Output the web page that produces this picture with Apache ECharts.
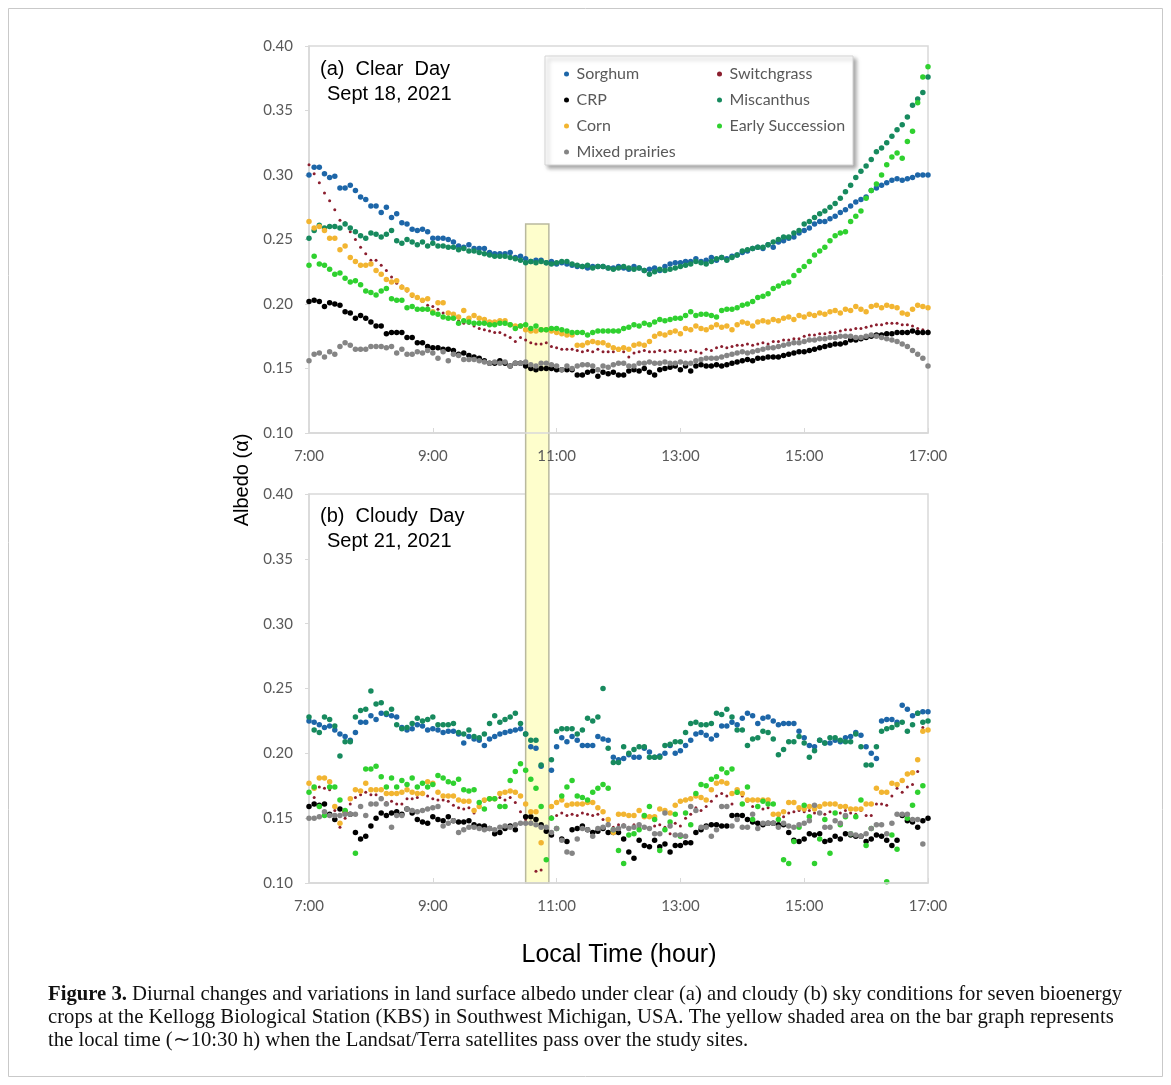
<!DOCTYPE html>
<html><head><meta charset="utf-8">
<script src="https://cdn.jsdelivr.net/npm/echarts@6/dist/echarts.min.js"></script>
<style>html,body{margin:0;padding:0;background:#fff}#c{width:1171px;height:1085px}</style>
</head><body><div id="c"></div>
<script>
// ---- sampling times (5-minute records, 7:00 - 17:00) ----
const times = [];
for (let m = 7 * 60; m <= 17 * 60; m += 5) times.push(Math.floor(m / 60) + ':' + String(m % 60).padStart(2, '0'));
const xTickLabels = ['7:00', '9:00', '11:00', '13:00', '15:00', '17:00'];
const yTicks = [0.10, 0.15, 0.20, 0.25, 0.30, 0.35, 0.40];

// ---- (a) Clear day, Sept 18, 2021 ----
const sorghumClear = [0.300,0.306,0.306,0.301,0.298,0.299,0.290,0.290,0.292,0.288,
0.283,0.281,0.276,0.276,0.271,0.275,0.267,0.270,0.263,0.262,
0.258,0.257,0.258,0.256,0.251,0.251,0.251,0.250,0.248,0.245,
0.244,0.246,0.243,0.243,0.243,0.240,0.239,0.239,0.239,0.240,
0.236,0.237,0.235,0.233,0.234,0.234,0.232,0.233,0.231,0.232,
0.231,0.230,0.229,0.229,0.228,0.229,0.229,0.229,0.228,0.228,
0.229,0.228,0.227,0.229,0.228,0.226,0.227,0.228,0.226,0.229,
0.231,0.232,0.232,0.233,0.233,0.235,0.233,0.234,0.236,0.234,
0.236,0.235,0.237,0.238,0.240,0.241,0.243,0.244,0.243,0.246,
0.244,0.248,0.249,0.251,0.252,0.255,0.257,0.259,0.262,0.264,
0.264,0.266,0.268,0.271,0.273,0.276,0.279,0.281,0.283,0.288,
0.290,0.292,0.294,0.296,0.297,0.296,0.297,0.298,0.300,0.300,
0.300];
const switchgrassClear = [0.308,0.301,0.294,0.286,0.280,0.273,0.265,0.263,0.256,0.250,
0.244,0.239,0.234,0.234,0.230,0.226,0.221,0.216,0.214,0.210,
0.206,0.205,0.202,0.199,0.198,0.196,0.193,0.190,0.189,0.187,
0.185,0.185,0.183,0.181,0.180,0.179,0.178,0.178,0.176,0.174,
0.171,0.174,0.172,0.170,0.169,0.169,0.170,0.167,0.166,0.165,
0.165,0.165,0.164,0.163,0.164,0.163,0.165,0.163,0.163,0.163,
0.164,0.163,0.159,0.162,0.163,0.164,0.163,0.163,0.164,0.163,
0.164,0.163,0.164,0.163,0.164,0.163,0.162,0.165,0.164,0.166,
0.167,0.166,0.167,0.168,0.168,0.169,0.168,0.169,0.170,0.169,
0.171,0.171,0.172,0.172,0.173,0.173,0.175,0.176,0.176,0.177,
0.177,0.178,0.178,0.179,0.180,0.180,0.181,0.181,0.182,0.183,
0.184,0.184,0.185,0.185,0.185,0.184,0.184,0.183,0.181,0.180,
0.179];
const crpClear = [0.202,0.203,0.202,0.198,0.201,0.200,0.199,0.194,0.193,0.189,
0.191,0.189,0.186,0.183,0.183,0.177,0.178,0.178,0.178,0.174,
0.174,0.170,0.170,0.167,0.166,0.166,0.165,0.165,0.164,0.161,
0.162,0.160,0.159,0.158,0.156,0.154,0.154,0.156,0.154,0.152,
0.154,0.154,0.152,0.150,0.149,0.150,0.150,0.150,0.149,0.149,
0.149,0.149,0.145,0.145,0.147,0.148,0.144,0.147,0.146,0.147,
0.145,0.145,0.148,0.149,0.148,0.150,0.147,0.145,0.149,0.150,
0.151,0.152,0.149,0.152,0.148,0.152,0.153,0.152,0.152,0.153,
0.152,0.153,0.154,0.155,0.156,0.157,0.156,0.158,0.158,0.159,
0.159,0.159,0.160,0.161,0.162,0.163,0.163,0.164,0.165,0.166,
0.167,0.168,0.169,0.169,0.170,0.172,0.172,0.173,0.174,0.175,
0.176,0.176,0.177,0.177,0.178,0.178,0.178,0.179,0.178,0.178,
0.178];
const miscanthusClear = [0.251,0.257,0.261,0.259,0.260,0.260,0.259,0.262,0.259,0.256,
0.253,0.251,0.255,0.254,0.252,0.254,0.257,0.249,0.247,0.250,
0.248,0.246,0.248,0.245,0.247,0.245,0.245,0.244,0.244,0.242,
0.243,0.241,0.241,0.240,0.239,0.238,0.237,0.237,0.237,0.236,
0.235,0.234,0.232,0.233,0.232,0.233,0.232,0.231,0.232,0.233,
0.233,0.231,0.230,0.229,0.230,0.228,0.229,0.229,0.228,0.227,
0.228,0.229,0.228,0.227,0.228,0.226,0.223,0.225,0.227,0.226,
0.227,0.228,0.229,0.230,0.231,0.233,0.232,0.231,0.233,0.235,
0.236,0.234,0.236,0.238,0.241,0.242,0.243,0.244,0.244,0.246,
0.248,0.250,0.252,0.252,0.255,0.257,0.262,0.264,0.267,0.270,
0.272,0.275,0.278,0.282,0.287,0.292,0.298,0.303,0.307,0.312,
0.318,0.321,0.325,0.330,0.335,0.339,0.345,0.354,0.359,0.364,
0.376];
const cornClear = [0.264,0.259,0.260,0.257,0.251,0.251,0.242,0.245,0.236,0.233,
0.230,0.230,0.231,0.226,0.223,0.219,0.217,0.218,0.213,0.211,
0.207,0.205,0.203,0.204,0.194,0.201,0.201,0.193,0.192,0.190,
0.195,0.189,0.191,0.189,0.188,0.186,0.186,0.187,0.187,0.184,
0.183,0.183,0.180,0.179,0.179,0.180,0.180,0.179,0.178,0.177,
0.176,0.176,0.168,0.168,0.170,0.171,0.170,0.170,0.168,0.166,
0.165,0.166,0.165,0.168,0.169,0.168,0.171,0.175,0.177,0.176,
0.178,0.179,0.177,0.181,0.180,0.183,0.181,0.180,0.182,0.184,
0.182,0.183,0.180,0.184,0.186,0.185,0.183,0.186,0.187,0.186,
0.188,0.187,0.189,0.190,0.188,0.191,0.190,0.192,0.191,0.193,
0.192,0.194,0.195,0.193,0.196,0.195,0.198,0.196,0.194,0.198,
0.199,0.197,0.199,0.198,0.197,0.193,0.192,0.196,0.199,0.198,
0.197];
const earlySuccClear = [0.230,0.237,0.231,0.230,0.227,0.223,0.224,0.220,0.217,0.218,
0.215,0.210,0.209,0.207,0.210,0.212,0.204,0.203,0.203,0.197,
0.198,0.196,0.196,0.196,0.193,0.192,0.190,0.189,0.189,0.185,
0.187,0.186,0.185,0.185,0.185,0.184,0.184,0.185,0.185,0.184,
0.181,0.183,0.184,0.181,0.183,0.180,0.180,0.181,0.181,0.180,
0.179,0.178,0.178,0.178,0.176,0.178,0.179,0.179,0.179,0.179,
0.179,0.181,0.182,0.184,0.183,0.185,0.184,0.186,0.188,0.187,
0.188,0.189,0.189,0.191,0.194,0.191,0.192,0.192,0.191,0.190,
0.195,0.196,0.196,0.197,0.199,0.200,0.202,0.205,0.206,0.208,
0.212,0.214,0.216,0.217,0.222,0.226,0.229,0.233,0.238,0.241,
0.244,0.249,0.253,0.255,0.256,0.264,0.268,0.272,0.282,0.288,
0.293,0.300,0.308,0.314,0.317,0.313,0.326,0.334,0.356,0.376,
0.384];
const mixedClear = [0.156,0.161,0.162,0.159,0.163,0.161,0.167,0.170,0.168,0.165,
0.165,0.165,0.167,0.167,0.167,0.166,0.167,0.162,0.165,0.161,
0.161,0.163,0.162,0.164,0.162,0.158,0.163,0.156,0.161,0.160,
0.157,0.157,0.157,0.156,0.155,0.154,0.155,0.154,0.155,0.152,
0.154,0.154,0.155,0.153,0.152,0.154,0.154,0.153,0.152,0.149,
0.152,0.150,0.152,0.153,0.153,0.152,0.149,0.152,0.151,0.153,
0.154,0.154,0.152,0.152,0.154,0.154,0.155,0.154,0.154,0.155,
0.154,0.154,0.155,0.154,0.154,0.156,0.157,0.158,0.158,0.158,
0.159,0.160,0.161,0.162,0.163,0.162,0.163,0.164,0.165,0.166,
0.166,0.167,0.168,0.169,0.170,0.170,0.171,0.172,0.172,0.173,
0.173,0.174,0.174,0.175,0.175,0.175,0.174,0.174,0.175,0.176,
0.175,0.174,0.173,0.172,0.171,0.169,0.167,0.164,0.161,0.158,
0.152];

// ---- (b) Cloudy day, Sept 21, 2021 ----
const sorghumCloudy = [0.225,0.224,0.222,0.220,0.221,0.218,0.215,0.213,0.210,0.216,
0.224,0.224,0.229,0.226,0.231,0.230,0.229,0.228,0.220,0.218,
0.219,0.222,0.221,0.218,0.219,0.218,0.216,0.217,0.217,0.215,
0.208,0.213,0.211,0.210,0.206,0.211,0.213,0.215,0.216,0.217,
0.218,0.219,0.215,0.205,0.204,0.190,null,0.187,0.205,0.212,
0.209,0.213,0.210,0.206,0.206,0.206,0.213,0.211,0.210,0.197,
0.195,0.196,0.199,0.197,0.197,0.204,0.201,0.197,0.198,0.200,
0.206,0.200,0.202,0.206,0.210,0.215,0.216,0.214,0.211,0.214,
0.221,0.221,0.224,0.222,0.227,0.231,0.229,0.223,0.227,0.228,
0.225,0.222,0.223,0.223,0.223,0.217,0.212,0.206,0.205,0.210,
0.208,0.208,0.210,0.209,0.212,0.213,0.216,0.214,0.205,0.200,
0.196,0.225,0.226,0.226,0.224,0.237,0.234,0.229,0.231,0.232,
0.232];
const switchgrassCloudy = [0.170,0.166,0.174,0.173,0.172,0.156,0.143,0.150,0.161,0.166,
0.168,0.170,0.168,0.168,0.166,0.162,0.163,0.161,0.161,0.165,
0.165,0.166,0.170,0.167,0.165,0.164,0.164,0.163,0.160,0.158,
0.157,0.158,0.154,0.161,0.163,0.164,0.166,0.166,0.164,0.166,
0.162,0.155,0.149,0.147,0.109,0.110,null,0.151,0.152,0.154,
0.152,0.153,0.152,0.154,0.153,0.152,0.153,0.149,0.146,0.143,
0.145,0.145,0.143,0.145,0.143,0.143,0.142,0.144,0.145,0.143,
0.138,0.146,0.144,0.150,0.153,0.158,0.156,0.159,0.163,0.167,
0.169,0.167,0.161,0.169,0.167,0.163,0.159,0.159,0.157,0.158,
0.153,0.152,0.151,0.154,0.155,0.156,0.155,0.156,0.154,0.154,
0.153,0.155,0.154,0.154,0.156,0.154,0.153,0.156,0.152,0.152,
0.161,0.161,0.160,0.167,0.173,0.170,0.174,0.176,0.186,0.220,
null];
const crpCloudy = [0.159,0.161,0.160,0.161,0.153,0.149,0.157,0.155,0.153,0.139,
0.134,0.136,0.144,0.150,0.154,0.152,0.154,0.155,0.153,0.157,
0.154,0.149,0.147,0.146,0.151,0.149,0.148,0.151,0.148,0.147,
0.147,0.148,0.145,0.144,0.144,0.142,0.138,0.139,0.142,0.144,
0.141,null,0.151,0.151,0.149,0.145,0.140,0.137,null,0.134,
0.132,0.141,0.142,0.144,0.141,0.139,0.140,0.142,0.139,0.139,
0.139,0.134,0.124,0.119,0.133,0.129,0.128,0.133,0.128,0.130,
0.124,0.129,0.129,0.131,0.131,0.139,0.141,0.144,0.145,0.145,
0.144,0.144,0.152,0.152,0.152,0.149,0.147,0.146,0.145,0.146,
0.146,0.145,0.145,0.139,0.133,0.132,0.134,0.138,0.137,0.138,
0.132,0.133,0.136,0.134,0.138,0.137,0.136,0.136,0.132,0.134,
0.137,0.136,0.133,0.129,0.133,0.152,0.148,0.147,0.143,0.148,
0.150];
const miscanthusCloudy = [0.228,0.218,0.216,0.228,0.226,0.221,0.198,0.209,0.209,0.228,
0.233,0.234,0.248,0.238,0.239,0.231,0.234,0.222,0.219,0.220,
0.223,0.227,0.225,0.226,0.228,0.222,0.222,0.222,0.223,0.216,
0.215,0.218,0.213,0.212,0.215,0.223,0.229,0.224,0.226,0.228,
0.231,0.223,0.215,0.210,0.210,0.191,null,0.195,0.217,0.219,
0.219,0.219,0.215,0.218,0.227,0.225,0.228,0.250,0.204,0.193,
0.193,0.205,0.200,0.203,0.205,0.205,0.197,0.197,0.197,0.206,
0.207,0.209,0.209,0.216,0.223,0.224,0.222,0.222,0.223,0.231,
0.230,0.234,0.228,0.218,0.218,0.206,0.211,0.212,0.217,0.216,
0.211,0.199,0.203,0.209,0.209,0.213,0.208,0.197,0.202,0.210,
0.208,0.212,0.212,0.210,0.209,0.209,0.215,0.205,0.191,0.191,
0.205,0.217,0.219,0.220,0.222,0.224,0.217,0.222,0.231,0.224,
0.225];
const cornCloudy = [0.177,0.173,0.181,0.181,0.178,0.159,0.146,0.155,0.165,0.172,
0.171,0.177,0.172,0.172,0.172,0.169,0.169,0.169,0.170,0.172,
0.170,0.169,0.169,0.178,0.177,0.170,0.167,0.167,0.167,0.164,
0.163,0.163,0.156,0.159,0.164,0.165,0.165,0.169,0.170,0.171,
0.170,0.167,0.161,0.155,0.155,0.131,null,0.159,0.162,0.164,
0.160,0.161,0.161,0.161,0.162,0.162,0.158,0.155,0.149,0.139,
0.153,0.153,0.152,0.152,0.156,0.151,0.151,0.151,0.157,0.156,
0.154,0.160,0.163,0.164,0.165,0.167,0.166,0.164,0.172,0.177,
0.178,0.177,0.169,0.172,0.169,0.164,0.164,0.164,0.164,0.164,
0.153,0.153,0.155,0.162,0.162,0.158,0.157,0.159,0.157,0.159,
0.161,0.161,0.161,0.159,0.159,0.157,0.157,0.157,0.161,0.161,
0.173,0.170,0.170,0.177,0.176,0.179,0.184,0.185,0.195,0.217,
0.218];
const earlySuccCloudy = [0.170,0.174,0.159,0.152,0.174,0.174,0.164,0.156,null,0.123,
null,0.188,0.188,0.190,0.182,0.174,0.181,0.174,0.179,0.176,
0.181,0.174,0.177,0.174,0.176,0.183,0.181,0.178,0.177,0.180,
0.172,0.171,0.172,0.162,0.157,0.165,0.165,0.159,0.159,0.179,
0.186,0.192,0.187,0.180,0.173,0.159,0.118,0.150,0.142,0.167,
0.174,0.179,0.167,0.166,0.164,0.170,0.173,0.176,0.173,0.141,
0.125,0.115,0.137,0.138,0.141,0.152,0.159,0.149,0.125,0.141,
0.147,0.153,0.136,0.154,0.145,0.169,0.176,0.175,0.180,0.182,
0.188,0.185,0.188,0.170,0.161,0.174,0.149,0.159,0.163,0.161,
0.161,0.149,0.118,0.115,0.132,0.143,0.160,0.151,0.115,0.134,
0.149,0.123,0.154,0.145,0.151,0.138,0.151,0.164,0.129,0.142,
null,null,0.101,0.137,0.126,null,0.150,0.160,0.170,0.175,
null];
const mixedCloudy = [0.150,0.150,0.151,0.155,0.152,0.152,0.152,0.153,0.153,0.153,
0.159,0.152,0.161,0.161,0.165,0.161,0.143,0.152,0.152,0.157,
0.156,0.155,0.156,0.157,0.158,0.159,0.144,0.146,0.148,0.139,
0.141,0.143,0.143,0.142,0.141,0.142,0.141,0.143,0.144,0.143,
0.145,0.146,0.146,0.146,0.145,0.143,0.143,0.139,0.142,0.133,
0.124,0.123,0.134,0.142,0.141,0.136,0.142,0.143,0.145,0.141,
0.142,0.144,0.142,0.143,0.145,0.143,0.142,0.138,0.138,0.154,
0.144,0.137,0.137,0.136,0.159,0.156,0.143,0.143,0.136,0.141,
0.159,0.159,0.144,0.149,0.143,0.143,0.153,0.142,0.146,0.146,
0.146,0.143,0.146,0.144,0.143,0.145,0.146,0.148,0.160,0.154,
0.143,0.143,0.148,0.146,0.152,0.138,0.137,0.136,0.138,0.142,
0.145,0.145,0.138,0.146,0.153,0.153,0.153,0.149,0.149,0.130,
null];

// satellite overpass window (hours) and the top of the shaded box (albedo)
const overpassHours = [10.5, 10.875];
const overpassTopAlbedo = 0.262;

const seriesNames = ['Sorghum', 'Switchgrass', 'CRP', 'Miscanthus', 'Corn', 'Early Succession', 'Mixed prairies'];
const seriesColors = ['#1d66a8', '#8b1e2e', '#000000', '#178a5e', '#f2b531', '#2fd12f', '#858585'];
const clearData = [sorghumClear, switchgrassClear, crpClear, miscanthusClear, cornClear, earlySuccClear, mixedClear];
const cloudyData = [sorghumCloudy, switchgrassCloudy, crpCloudy, miscanthusCloudy, cornCloudy, earlySuccCloudy, mixedCloudy];

const chart = echarts.init(document.getElementById('c'), null, { renderer: 'canvas' });
const GRAY = '#595959', LINE = '#d9d9d9';
const gridBox = [{ left: 309, top: 46, width: 619, height: 387 }, { left: 309, top: 494, width: 619, height: 389 }];

function xAxisDef(i) {
  return {
    type: 'category', gridIndex: i, data: times, boundaryGap: false, z: 5,
    axisLine: { lineStyle: { color: LINE, width: 1.5 } },
    axisTick: { show: true, inside: true, length: 5, interval: (idx) => xTickLabels.includes(times[idx]), lineStyle: { color: LINE } },
    axisLabel: { interval: (idx) => xTickLabels.includes(times[idx]), color: GRAY, fontFamily: 'Lato', fontSize: 15, margin: 16 },
    splitLine: { show: false }
  };
}
function yAxisDef(i) {
  return {
    type: 'value', gridIndex: i, min: yTicks[0], max: yTicks[yTicks.length - 1], interval: 0.05,
    axisLine: { show: true, lineStyle: { color: LINE, width: 1.5 } },
    axisTick: { show: true, length: 4, lineStyle: { color: LINE } },
    axisLabel: { formatter: (v) => v.toFixed(2), color: GRAY, fontFamily: 'Lato', fontSize: 15, margin: 16 },
    splitLine: { show: false }
  };
}
const series = [];
[clearData, cloudyData].forEach((set, gi) => {
  set.forEach((arr, k) => {
    series.push({
      name: seriesNames[k], type: 'scatter', xAxisIndex: gi, yAxisIndex: gi,
      symbol: 'circle', symbolSize: seriesNames[k] === 'Switchgrass' ? 3 : 5.5,
      itemStyle: { color: seriesColors[k], opacity: 1 },
      data: arr.map(v => v === null ? '-' : v), silent: true, z: 3
    });
  });
});
const legendText = { color: GRAY, fontFamily: 'Lato', fontSize: 16 };
const legendCommon = { orient: 'vertical', itemWidth: 10, itemHeight: 5, itemGap: 10, icon: 'circle', textStyle: legendText, z: 8, selectedMode: false };

const titleFont = '20px "Liberation Sans", Arial, sans-serif';
chart.setOption({
  animation: false,
  color: seriesColors,
  grid: gridBox.map(g => Object.assign({ show: true, borderColor: LINE, borderWidth: 1.5, containLabel: false }, g)),
  xAxis: [xAxisDef(0), xAxisDef(1)],
  yAxis: [yAxisDef(0), yAxisDef(1)],
  legend: [
    Object.assign({ left: 559, top: 61, data: ['Sorghum', 'CRP', 'Corn', 'Mixed prairies'] }, legendCommon),
    Object.assign({ left: 712, top: 61, data: ['Switchgrass', 'Miscanthus', 'Early Succession'] }, legendCommon)
  ],
  series: series
});

const x0 = chart.convertToPixel({ xAxisIndex: 0 }, 0);
const x1 = chart.convertToPixel({ xAxisIndex: 0 }, times.length - 1);
const hourToPx = (h) => x0 + (x1 - x0) * ((h - 7) * 12) / (times.length - 1);
const rx0 = hourToPx(overpassHours[0]), rx1 = hourToPx(overpassHours[1]);
const ry0 = chart.convertToPixel({ yAxisIndex: 0 }, overpassTopAlbedo);
const ry1 = chart.convertToPixel({ yAxisIndex: 1 }, yTicks[0]);

const capFont = '20.7px "Liberation Serif", "Times New Roman", serif';
chart.setOption({
  graphic: [
    { type: 'rect', id: 'frame', z: 0, silent: true, shape: { x: 8.5, y: 8.5, width: 1154, height: 1068 }, style: { fill: 'none', stroke: '#c9c9c9', lineWidth: 1 } },
    { type: 'rect', id: 'overpass', z: 1, silent: true, shape: { x: rx0, y: ry0, width: rx1 - rx0, height: ry1 - ry0 }, style: { fill: '#fefecc', stroke: '#b9b99e', lineWidth: 1.5 } },
    { type: 'rect', id: 'legendBox', z: 7, silent: true, shape: { x: 545, y: 56, width: 308, height: 109 }, style: { fill: '#ffffff', stroke: '#d4d4d4', lineWidth: 1, shadowBlur: 4, shadowOffsetX: 3, shadowOffsetY: 3, shadowColor: 'rgba(0,0,0,0.35)' } },
    { type: 'text', id: 'ta1', z: 8, left: 320, top: 59, style: { text: '(a)  Clear  Day', font: titleFont, fill: '#000' } },
    { type: 'text', id: 'ta2', z: 8, left: 327, top: 84, style: { text: 'Sept 18, 2021', font: titleFont, fill: '#000' } },
    { type: 'text', id: 'tb1', z: 8, left: 320, top: 506, style: { text: '(b)  Cloudy  Day', font: titleFont, fill: '#000' } },
    { type: 'text', id: 'tb2', z: 8, left: 327, top: 531, style: { text: 'Sept 21, 2021', font: titleFont, fill: '#000' } },
    { type: 'text', id: 'ylab', z: 8, x: 242, y: 480, rotation: Math.PI / 2, style: { text: 'Albedo (α)', font: titleFont, fill: '#000', align: 'center', verticalAlign: 'middle' } },
    { type: 'text', id: 'xlab', z: 8, x: 619, y: 955, style: { text: 'Local Time (hour)', font: '25px "Liberation Sans", Arial, sans-serif', fill: '#000', align: 'center', verticalAlign: 'middle' } },
    { type: 'text', id: 'cap', z: 8, x: 48, y: 983, style: {
      text: '{b|Figure 3.} Diurnal changes and variations in land surface albedo under clear (a) and cloudy (b) sky conditions for seven bioenergy\ncrops at the Kellogg Biological Station (KBS) in Southwest Michigan, USA. The yellow shaded area on the bar graph represents\nthe local time (∼10:30 h) when the Landsat/Terra satellites pass over the study sites.',
      font: capFont, fill: '#111', lineHeight: 23,
      rich: { b: { font: 'bold ' + capFont, fill: '#111', lineHeight: 23 } } } }
  ]
});
</script></body></html>
